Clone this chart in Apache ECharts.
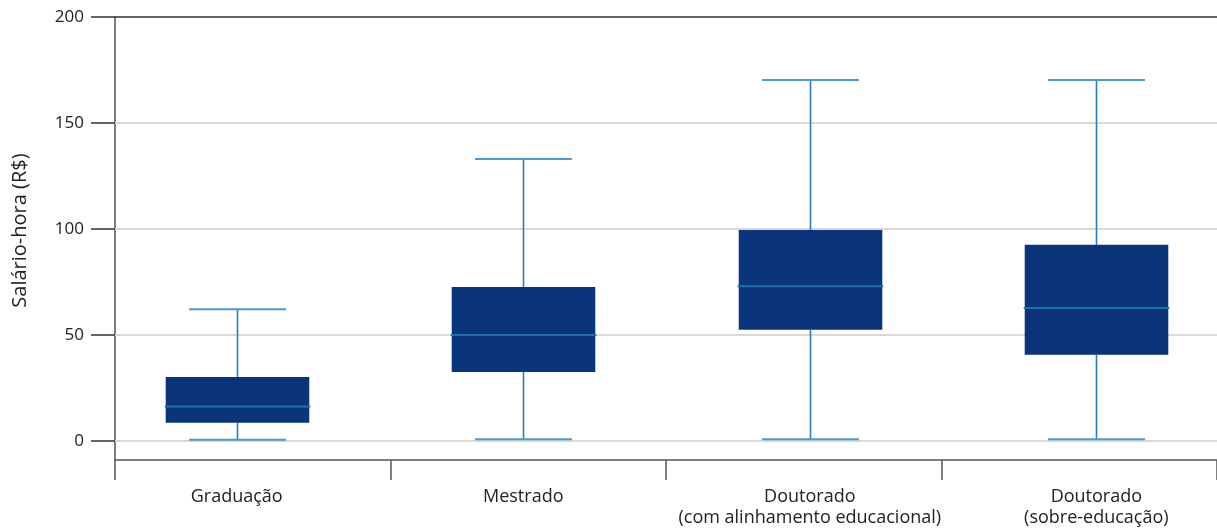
<!DOCTYPE html>
<html>
<head>
<meta charset="utf-8">
<script src="https://cdn.jsdelivr.net/npm/echarts@6/dist/echarts.min.js"></script>
<style>
html,body{margin:0;padding:0;background:#fff;}
#chart{width:1217px;height:531px;}
</style>
</head>
<body>
<div id="chart"></div>
<script>
// ---- data ----
var categories = ['Graduação', 'Mestrado', 'Doutorado\n(com alinhamento educacional)', 'Doutorado\n(sobre-educação)'];
var whiskerLow = [0.6, 0.8, 0.8, 0.8];
var q1 = [8.6, 32.5, 52.4, 40.6];
var median = [16.2, 50.0, 73.0, 62.7];
var q3 = [30.2, 72.6, 99.5, 92.5];
var whiskerHigh = [62.1, 133.0, 170.3, 170.3];
var yTicks = [0, 50, 100, 150, 200];
var yGridLines = [0, 50, 100, 150];
var yAxisName = 'Salário-hora (R$)';

var boxData = categories.map(function (c, i) {
  return [i, whiskerLow[i], q1[i], median[i], q3[i], whiskerHigh[i]];
});

var FONT = 'Open Sans';
var chart = echarts.init(document.getElementById('chart'), null, {renderer: 'canvas'});

function renderBox(params, api) {
  var x = api.value(0);
  var pLow = api.coord([x, api.value(1)]);
  var pQ1 = api.coord([x, api.value(2)]);
  var pMed = api.coord([x, api.value(3)]);
  var pQ3 = api.coord([x, api.value(4)]);
  var pHigh = api.coord([x, api.value(5)]);
  var unit = api.size([1, 0])[0];
  var bw = unit * 0.501 / 2;
  var cw = unit * 0.338 / 2;
  var cx = Math.round(pMed[0]) + 0.5;
  var whisker = {stroke: '#2a7db9', lineWidth: 1.6};
  var cap = {stroke: '#4a9acb', lineWidth: 2};
  return {
    type: 'group',
    children: [
      {type: 'line', shape: {x1: cx, y1: pHigh[1], x2: cx, y2: pQ3[1]}, style: whisker},
      {type: 'line', shape: {x1: cx, y1: pQ1[1], x2: cx, y2: pLow[1]}, style: whisker},
      {type: 'line', shape: {x1: cx - cw, y1: pHigh[1], x2: cx + cw, y2: pHigh[1]}, style: cap},
      {type: 'line', shape: {x1: cx - cw, y1: pLow[1], x2: cx + cw, y2: pLow[1]}, style: cap},
      {type: 'rect', shape: {x: cx - bw, y: pQ3[1], width: bw * 2, height: pQ1[1] - pQ3[1]}, style: {fill: '#0a3479'}},
      {type: 'line', shape: {x1: cx - bw - 1, y1: pMed[1], x2: cx + bw + 1, y2: pMed[1]}, style: {stroke: '#1a70ae', lineWidth: 2}}
    ]
  };
}

var option = {
  animation: false,
  backgroundColor: '#ffffff',
  textStyle: {fontFamily: FONT},
  grid: {left: 115, right: -3, top: 17, bottom: 71, containLabel: false},
  xAxis: [
    {
      type: 'category',
      data: categories,
      boundaryGap: true,
      axisLine: {show: true, onZero: false, lineStyle: {color: '#555555', width: 1.5}},
      axisTick: {show: true, length: 20, lineStyle: {color: '#555555', width: 1.5}},
      axisLabel: {show: false},
      splitLine: {show: false}
    },
    {
      type: 'value',
      position: 'bottom',
      min: -0.4246,
      max: 3.421,
      axisLine: {show: false, onZero: false},
      axisTick: {show: false},
      splitLine: {show: false},
      axisLabel: {
        show: true,
        customValues: [0, 1, 2, 3],
        formatter: function (v) { return categories[Math.round(v)]; },
        margin: 26,
        fontFamily: FONT,
        fontSize: 18,
        lineHeight: 21,
        color: '#222222',
        align: 'center'
      }
    }
  ],
  yAxis: {
    type: 'value',
    min: -9,
    max: 200,
    name: yAxisName,
    nameLocation: 'middle',
    nameGap: 85,
    nameTextStyle: {fontFamily: FONT, fontSize: 20, color: '#222222', padding: [0, 0, 0, 16]},
    axisLine: {show: true, onZero: false, lineStyle: {color: '#555555', width: 1.5}},
    axisTick: {show: true, inside: false, length: 24, customValues: yTicks, lineStyle: {color: '#333333', width: 1.5}},
    axisLabel: {show: true, customValues: yTicks, margin: 31, fontFamily: FONT, fontSize: 17, color: '#222222'},
    splitLine: {show: false}
  },
  series: [
    {
      type: 'line',
      xAxisIndex: 1,
      yAxisIndex: 0,
      data: [],
      silent: true,
      markLine: {
        silent: true,
        symbol: ['none', 'none'],
        label: {show: false},
        animation: false,
        data: yGridLines.map(function (v) {
          return {yAxis: v, lineStyle: {color: '#d9d9d9', width: 2, type: 'solid'}};
        }).concat([{yAxis: yTicks[yTicks.length - 1], lineStyle: {color: '#333333', width: 1.5, type: 'solid'}}])
      }
    },
    {
      type: 'custom',
      xAxisIndex: 1,
      yAxisIndex: 0,
      renderItem: renderBox,
      encode: {x: 0, y: [1, 2, 3, 4, 5]},
      data: boxData,
      z: 5
    }
  ]
};
chart.setOption(option);
</script>
</body>
</html>
